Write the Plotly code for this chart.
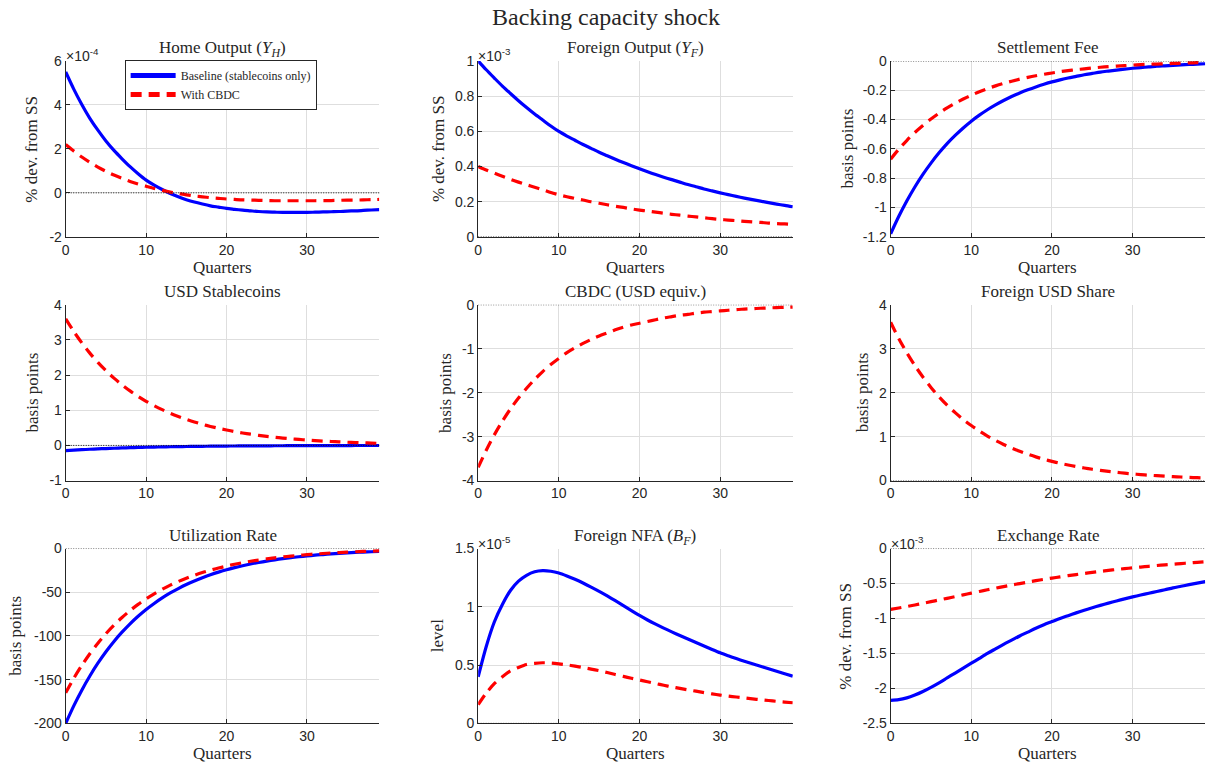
import plotly.graph_objects as go

quarters = list(range(40))

# Home Output (x1e-4)
home_base = [5.50, 4.72, 4.02, 3.39, 2.85, 2.36, 1.93, 1.55, 1.19, 0.87, 0.58, 0.35, 0.15, -0.03, -0.18,
             -0.31, -0.42, -0.51, -0.59, -0.65, -0.71, -0.75, -0.79, -0.82, -0.85, -0.87, -0.88, -0.89, -0.89,
             -0.89, -0.89, -0.88, -0.87, -0.86, -0.85, -0.83, -0.82, -0.80, -0.78, -0.76]
home_cbdc = [2.20, 1.90, 1.63, 1.39, 1.17, 0.98, 0.81, 0.66, 0.52, 0.40, 0.30, 0.20, 0.11, 0.03, -0.03,
             -0.09, -0.14, -0.18, -0.22, -0.25, -0.28, -0.30, -0.32, -0.33, -0.34, -0.35, -0.36, -0.36, -0.36,
             -0.36, -0.36, -0.36, -0.35, -0.35, -0.34, -0.33, -0.33, -0.32, -0.31, -0.30]

# Foreign Output (x1e-3)
forout_base = [1.000, 0.950, 0.903, 0.857, 0.815, 0.774, 0.735, 0.698, 0.664, 0.630, 0.599, 0.573, 0.549,
               0.525, 0.503, 0.481, 0.461, 0.441, 0.422, 0.404, 0.387, 0.370, 0.354, 0.339, 0.325, 0.311,
               0.297, 0.285, 0.272, 0.261, 0.250, 0.240, 0.230, 0.220, 0.211, 0.203, 0.194, 0.186, 0.179, 0.171]
forout_cbdc = [0.400, 0.380, 0.362, 0.344, 0.327, 0.311, 0.296, 0.282, 0.268, 0.252, 0.239, 0.228, 0.218,
               0.209, 0.199, 0.191, 0.182, 0.174, 0.167, 0.159, 0.152, 0.146, 0.140, 0.134, 0.128, 0.123,
               0.118, 0.113, 0.108, 0.103, 0.099, 0.095, 0.092, 0.088, 0.085, 0.082, 0.078, 0.075, 0.073, 0.070]

# Settlement Fee (bp)
fee_base = [-1.180, -1.062, -0.956, -0.860, -0.774, -0.697, -0.627, -0.564, -0.508, -0.457, -0.411, -0.370,
            -0.333, -0.300, -0.270, -0.243, -0.219, -0.197, -0.177, -0.159, -0.143, -0.129, -0.116, -0.105,
            -0.094, -0.085, -0.076, -0.069, -0.062, -0.056, -0.050, -0.045, -0.041, -0.036, -0.033, -0.030,
            -0.027, -0.024, -0.022, -0.019]
fee_cbdc = [-0.670, -0.603, -0.543, -0.488, -0.440, -0.396, -0.356, -0.320, -0.288, -0.260, -0.234, -0.210,
            -0.189, -0.170, -0.153, -0.138, -0.124, -0.112, -0.101, -0.091, -0.082, -0.073, -0.066, -0.059,
            -0.054, -0.048, -0.043, -0.039, -0.035, -0.032, -0.028, -0.025, -0.023, -0.021, -0.019, -0.017,
            -0.015, -0.013, -0.012, -0.011]

# USD Stablecoins (bp)
stable_base = [-0.150, -0.135, -0.122, -0.109, -0.098, -0.089, -0.080, -0.072, -0.065, -0.058, -0.052, -0.047,
               -0.042, -0.038, -0.034, -0.031, -0.028, -0.025, -0.022, -0.020, -0.018, -0.016, -0.015, -0.013,
               -0.012, -0.011, -0.010, -0.009, -0.008, -0.007, -0.006, -0.006, -0.005, -0.005, -0.004, -0.004,
               -0.003, -0.003, -0.003, -0.002]
stable_cbdc = [3.600, 3.240, 2.916, 2.624, 2.362, 2.126, 1.913, 1.722, 1.550, 1.395, 1.255, 1.130, 1.017, 0.915,
               0.824, 0.741, 0.667, 0.600, 0.540, 0.486, 0.438, 0.394, 0.354, 0.319, 0.287, 0.258, 0.233, 0.209,
               0.188, 0.170, 0.153, 0.137, 0.124, 0.111, 0.100, 0.090, 0.081, 0.073, 0.066, 0.059]

# CBDC (USD equiv., bp) - CBDC scenario only
cbdc_cbdc = [-3.70, -3.31, -2.96, -2.65, -2.37, -2.12, -1.90, -1.70, -1.52, -1.36, -1.22, -1.09, -0.98, -0.88,
             -0.79, -0.71, -0.64, -0.57, -0.51, -0.46, -0.42, -0.38, -0.34, -0.30, -0.27, -0.24, -0.22, -0.19,
             -0.17, -0.155, -0.14, -0.125, -0.11, -0.10, -0.09, -0.08, -0.072, -0.065, -0.058, -0.052]

# Foreign USD Share (bp) - CBDC scenario only
share_cbdc = [3.600, 3.235, 2.910, 2.618, 2.355, 2.120, 1.907, 1.716, 1.545, 1.390, 1.252, 1.127, 1.014, 0.913,
              0.822, 0.740, 0.666, 0.599, 0.539, 0.485, 0.437, 0.393, 0.354, 0.319, 0.287, 0.258, 0.232, 0.209,
              0.188, 0.169, 0.152, 0.137, 0.123, 0.111, 0.100, 0.090, 0.081, 0.073, 0.066, 0.059]

# Utilization Rate (bp)
util_base = [-200.0, -180.0, -162.0, -145.8, -131.2, -118.1, -106.3, -95.7, -86.1, -77.5, -69.7, -62.8, -56.5,
             -50.8, -45.8, -41.2, -37.1, -33.4, -30.0, -27.0, -24.3, -21.9, -19.7, -17.7, -16.0, -14.4, -12.9,
             -11.6, -10.5, -9.4, -8.5, -7.6, -6.9, -6.2, -5.6, -5.0, -4.5, -4.1, -3.7, -3.3]
util_cbdc = [-165.0, -148.5, -133.7, -120.3, -108.3, -97.4, -87.7, -78.9, -71.0, -63.9, -57.5, -51.8, -46.6,
             -41.9, -37.7, -34.0, -30.6, -27.5, -24.8, -22.3, -20.1, -18.0, -16.2, -14.6, -13.2, -11.8, -10.7,
             -9.6, -8.6, -7.8, -7.0, -6.3, -5.7, -5.1, -4.6, -4.1, -3.7, -3.3, -3.0, -2.7]

# Foreign NFA (x1e-5)
nfa_base = [0.40, 0.66, 0.87, 1.02, 1.14, 1.22, 1.27, 1.30, 1.31, 1.305, 1.29, 1.265, 1.236, 1.204, 1.169,
            1.132, 1.093, 1.052, 1.010, 0.968, 0.926, 0.887, 0.851, 0.817, 0.785, 0.754, 0.724, 0.694, 0.664,
            0.634, 0.605, 0.580, 0.556, 0.533, 0.511, 0.490, 0.468, 0.447, 0.426, 0.405]
nfa_cbdc = [0.16, 0.26, 0.34, 0.40, 0.45, 0.48, 0.505, 0.515, 0.52, 0.518, 0.511, 0.502, 0.491, 0.479, 0.466,
            0.452, 0.436, 0.419, 0.403, 0.387, 0.372, 0.357, 0.342, 0.327, 0.313, 0.300, 0.288, 0.276, 0.264,
            0.253, 0.243, 0.234, 0.226, 0.218, 0.210, 0.203, 0.196, 0.189, 0.183, 0.177]

# Exchange Rate (x1e-3)
fx_base = [-2.170, -2.160, -2.135, -2.095, -2.045, -1.985, -1.920, -1.850, -1.780, -1.710, -1.640, -1.570,
           -1.500, -1.435, -1.370, -1.310, -1.250, -1.195, -1.140, -1.090, -1.045, -1.000, -0.960, -0.920,
           -0.882, -0.847, -0.813, -0.781, -0.750, -0.720, -0.692, -0.665, -0.639, -0.614, -0.590, -0.563,
           -0.540, -0.517, -0.495, -0.473]
fx_cbdc = [-0.870, -0.850, -0.829, -0.807, -0.784, -0.760, -0.736, -0.712, -0.687, -0.663, -0.638, -0.614,
           -0.590, -0.567, -0.544, -0.522, -0.501, -0.480, -0.460, -0.441, -0.423, -0.405, -0.388, -0.372,
           -0.356, -0.341, -0.327, -0.313, -0.300, -0.288, -0.276, -0.265, -0.254, -0.243, -0.233, -0.224,
           -0.215, -0.206, -0.198, -0.190]

titles = ["Home Output (<i>Y</i><sub><i>H</i></sub>)", "Foreign Output (<i>Y</i><sub><i>F</i></sub>)",
          "Settlement Fee", "USD Stablecoins", "CBDC (USD equiv.)", "Foreign USD Share",
          "Utilization Rate", "Foreign NFA (<i>B</i><sub><i>F</i></sub>)", "Exchange Rate"]
ylabels = ["% dev. from SS", "% dev. from SS", "basis points", "basis points", "basis points",
           "basis points", "basis points", "level", "% dev. from SS"]
exponents = ["-4", "-3", None, None, None, None, None, "-5", "-3"]
series_base = [home_base, forout_base, fee_base, stable_base, None, None, util_base, nfa_base, fx_base]
series_cbdc = [home_cbdc, forout_cbdc, fee_cbdc, stable_cbdc, cbdc_cbdc, share_cbdc, util_cbdc, nfa_cbdc, fx_cbdc]
yticks = [
    [-2, 0, 2, 4, 6],
    [0, 0.2, 0.4, 0.6, 0.8, 1],
    [-1.2, -1, -0.8, -0.6, -0.4, -0.2, 0],
    [-1, 0, 1, 2, 3, 4],
    [-4, -3, -2, -1, 0],
    [0, 1, 2, 3, 4],
    [-200, -150, -100, -50, 0],
    [0, 0.5, 1, 1.5],
    [-2.5, -2, -1.5, -1, -0.5, 0],
]
ytick_labels = [
    ["-2", "0", "2", "4", "6"],
    ["0", "0.2", "0.4", "0.6", "0.8", "1"],
    ["-1.2", "-1", "-0.8", "-0.6", "-0.4", "-0.2", "0"],
    ["-1", "0", "1", "2", "3", "4"],
    ["-4", "-3", "-2", "-1", "0"],
    ["0", "1", "2", "3", "4"],
    ["-200", "-150", "-100", "-50", "0"],
    ["0", "0.5", "1", "1.5"],
    ["-2.5", "-2", "-1.5", "-1", "-0.5", "0"],
]
xticks = [0, 10, 20, 30]
xtick_labels = ["0", "10", "20", "30"]
x_label_rows = [0, 2]

W, H = 1210, 767


# the photographed page maps page pixels to picture pixels slightly; convert target picture pixels
def fx(px):
    return ((px - 2.2) / 0.998) / W


def fy(py):
    return 1 - ((py - 7.0) / 0.98) / H


# target picture-pixel boxes of the plot areas
col_px = [(64, 378), (477, 792), (890, 1205)]
row_px = [(60, 236), (304, 480), (548, 723)]
ylabel_x = [[30, 438, 847], [31, 444, 862], [14, 437, 845]]

SERIF = "Liberation Serif, DejaVu Serif, serif"
SANS = "Liberation Sans, Arial, sans-serif"
TXT = "#262626"
BLUE = "#0000ff"
RED = "#ff0000"

fig = go.Figure()
annotations = []
shapes = []
layout_axes = {}

for i in range(9):
    r, c = divmod(i, 3)
    n = i + 1
    xa = "xaxis" if n == 1 else f"xaxis{n}"
    ya = "yaxis" if n == 1 else f"yaxis{n}"
    xr = "x" if n == 1 else f"x{n}"
    yr = "y" if n == 1 else f"y{n}"
    left, right = col_px[c]
    top, bottom = row_px[r]

    layout_axes[xa] = dict(
        domain=[fx(left), fx(right)], anchor=yr, range=[0, 39], tickvals=xticks, ticktext=xtick_labels,
        showgrid=True, gridcolor="#dedede", gridwidth=1, zeroline=False,
        showline=True, linecolor="#262626", linewidth=1, ticks="inside", ticklen=4, tickcolor="#262626",
        tickfont=dict(family=SANS, size=14, color=TXT), mirror=False,
    )
    layout_axes[ya] = dict(
        domain=[fy(bottom), fy(top)], anchor=xr, range=[yticks[i][0], yticks[i][-1]],
        tickvals=yticks[i], ticktext=ytick_labels[i],
        showgrid=True, gridcolor="#dedede", gridwidth=1, zeroline=False,
        showline=True, linecolor="#262626", linewidth=1, ticks="inside", ticklen=4, tickcolor="#262626",
        tickfont=dict(family=SANS, size=14, color=TXT), mirror=False,
    )

    # dotted zero line
    shapes.append(dict(type="line", xref=f"{xr} domain", x0=0, x1=1, yref=yr, y0=0, y1=0,
                       line=dict(color="#111111", width=1, dash="1px,1.5px"), layer="above"))

    if series_base[i] is not None:
        fig.add_trace(go.Scatter(x=quarters, y=series_base[i], xaxis=xr, yaxis=yr, mode="lines",
                                 line=dict(color=BLUE, width=3.2, shape="spline", smoothing=0.8),
                                 name="Baseline (stablecoins only)", showlegend=(i == 0)))
    fig.add_trace(go.Scatter(x=quarters, y=series_cbdc[i], xaxis=xr, yaxis=yr, mode="lines",
                             line=dict(color=RED, width=3.2, dash="11px,7px", shape="spline", smoothing=0.8),
                             name="With CBDC", showlegend=(i == 0)))

    # subplot title
    annotations.append(dict(text=titles[i], xref="paper", yref="paper", x=fx((left + right) / 2), y=fy(top - 25),
                            xanchor="center", yanchor="top", showarrow=False,
                            font=dict(family=SERIF, size=17, color=TXT)))
    # y label
    annotations.append(dict(text=ylabels[i], xref="paper", yref="paper", x=fx(ylabel_x[r][c]),
                            y=fy((top + bottom) / 2), xanchor="center", yanchor="middle", textangle=-90,
                            showarrow=False, font=dict(family=SERIF, size=17, color=TXT)))
    # x label
    if r in x_label_rows:
        annotations.append(dict(text="Quarters", xref="paper", yref="paper", x=fx((left + right) / 2),
                                y=fy(bottom + 19), xanchor="center", yanchor="top", showarrow=False,
                                font=dict(family=SERIF, size=17, color=TXT)))
    if exponents[i]:
        annotations.append(dict(text=f"×10<sup>{exponents[i]}</sup>", xref="paper", yref="paper",
                                x=fx(left - 2), y=fy(top + 5), xanchor="left", yanchor="bottom", showarrow=False,
                                font=dict(family=SANS, size=14, color=TXT)))

annotations.append(dict(text="Backing capacity shock", xref="paper", yref="paper", x=fx(605), y=fy(16),
                        xanchor="center", yanchor="middle", showarrow=False,
                        font=dict(family=SERIF, size=24, color=TXT)))

fig.update_layout(
    width=W, height=H, margin=dict(l=0, r=0, t=0, b=0),
    paper_bgcolor="white", plot_bgcolor="white",
    annotations=annotations, shapes=shapes,
    showlegend=True,
    legend=dict(x=fx(123), y=fy(59), xanchor="left", yanchor="top",
                bgcolor="white", bordercolor="#262626", borderwidth=1,
                font=dict(family=SERIF, size=12, color=TXT), tracegroupgap=0,
                itemwidth=45, itemsizing="constant"),
    **layout_axes,
)

fig.write_html("out.html")
